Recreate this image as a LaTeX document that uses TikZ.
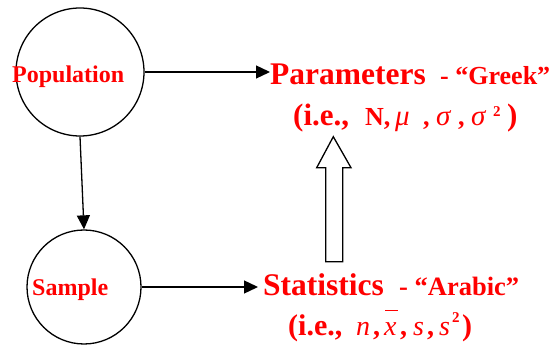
\documentclass[tikz,border=0pt]{standalone}
\usepackage{fontspec}
\setmainfont{Liberation Serif}
\usetikzlibrary{arrows.meta}
\newcommand{\fsz}[1]{\fontsize{#1}{#1}\selectfont}
\tikzset{
  circ/.style={draw=black, line width=1.3pt, circle, inner sep=0pt},
  conn/.style={line width=1.3pt, -{Triangle[length=14pt,width=13pt]}},
  txt/.style={text=red, inner sep=0pt, anchor=base west, font=\bfseries},
  gr/.style={text=red, inner sep=0pt, anchor=base west, font=\itshape\fsz{29}},
  blockarrow/.style={draw=black, line width=1.3pt, fill=white, line join=miter}
}
\begin{document}
\begin{tikzpicture}[x=1pt,y=-1pt]
\useasboundingbox (0,0) rectangle (554,347);
% circles
\node[circ, minimum size=128pt] (pop) at (80,72) {};
\node[circ, minimum size=114pt] (samp) at (84,287) {};
\node[txt, font=\bfseries\fsz{24}] (poplab) at (12,83) {Population};
\node[txt, font=\bfseries\fsz{24}] (samplab) at (32,295) {Sample};
% Parameters
\node[txt, font=\bfseries\fsz{31.5}] (param) at (270,85) {Parameters};
\node[txt, font=\bfseries\fsz{26}] (greek) at (440,85) {- “Greek”};
\node[txt, font=\bfseries\fsz{31}] (p1) at (293,126) {(i.e.,};
\node[txt, font=\bfseries\fsz{26}] (p2) at (365,126) {N,};
\node[gr] (p3) at (395,126) {μ};
\node[txt, font=\bfseries\fsz{26}] (p4) at (423,126) {,};
\node[gr] (p5) at (436,126) {σ};
\node[txt, font=\bfseries\fsz{26}] (p6) at (458,126) {,};
\node[gr] (p7) at (471,126) {σ};
\node[txt, font=\bfseries\fsz{15}] (p8) at (493,117) {2};
\node[txt, font=\bfseries\fsz{31}] (p9) at (507,126) {)};
% Statistics
\node[txt, font=\bfseries\fsz{31.5}] (stat) at (263,295) {Statistics};
\node[txt, font=\bfseries\fsz{26.5}] (arabic) at (399,295) {- “Arabic”};
\node[txt, font=\bfseries\fsz{30}] (s1) at (288,335) {(i.e.,};
\node[gr, font=\itshape\fsz{28}] (s2) at (356,335) {n};
\node[txt, font=\bfseries\fsz{28}] (s3) at (373,335) {,};
\node[gr, font=\itshape\fsz{28}] (s4) at (384,335) {x};
\node[txt, font=\bfseries\fsz{28}] (s5) at (400,335) {,};
\node[gr, font=\itshape\fsz{28}] (s6) at (413,335) {s};
\node[txt, font=\bfseries\fsz{28}] (s7) at (427,335) {,};
\node[gr, font=\itshape\fsz{28}] (s8) at (439,335) {s};
\node[txt, font=\bfseries\fsz{15}] (s9) at (452,323) {2};
\node[txt, font=\bfseries\fsz{30}] (s10) at (462,335) {)};
\draw[red, line width=0.9pt] ([shift={(1,-25)}]s4.base west) -- ([shift={(14,-25)}]s4.base west);
% connectors
\draw[conn] (pop.east) -- (pop.east -| param.west);
\draw[conn] (samp.east) -- ([xshift=-5pt]samp.east -| stat.west);
\draw[conn] (pop.south) -- (samp.north);
% block arrow
\draw[blockarrow] (325.7,261.7) -- (325.7,167.7) -- (316.7,167.7) -- (333.3,136.7)
  -- (351,167.7) -- (342.7,167.7) -- (342.7,261.7) -- cycle;
\end{tikzpicture}
\end{document}
